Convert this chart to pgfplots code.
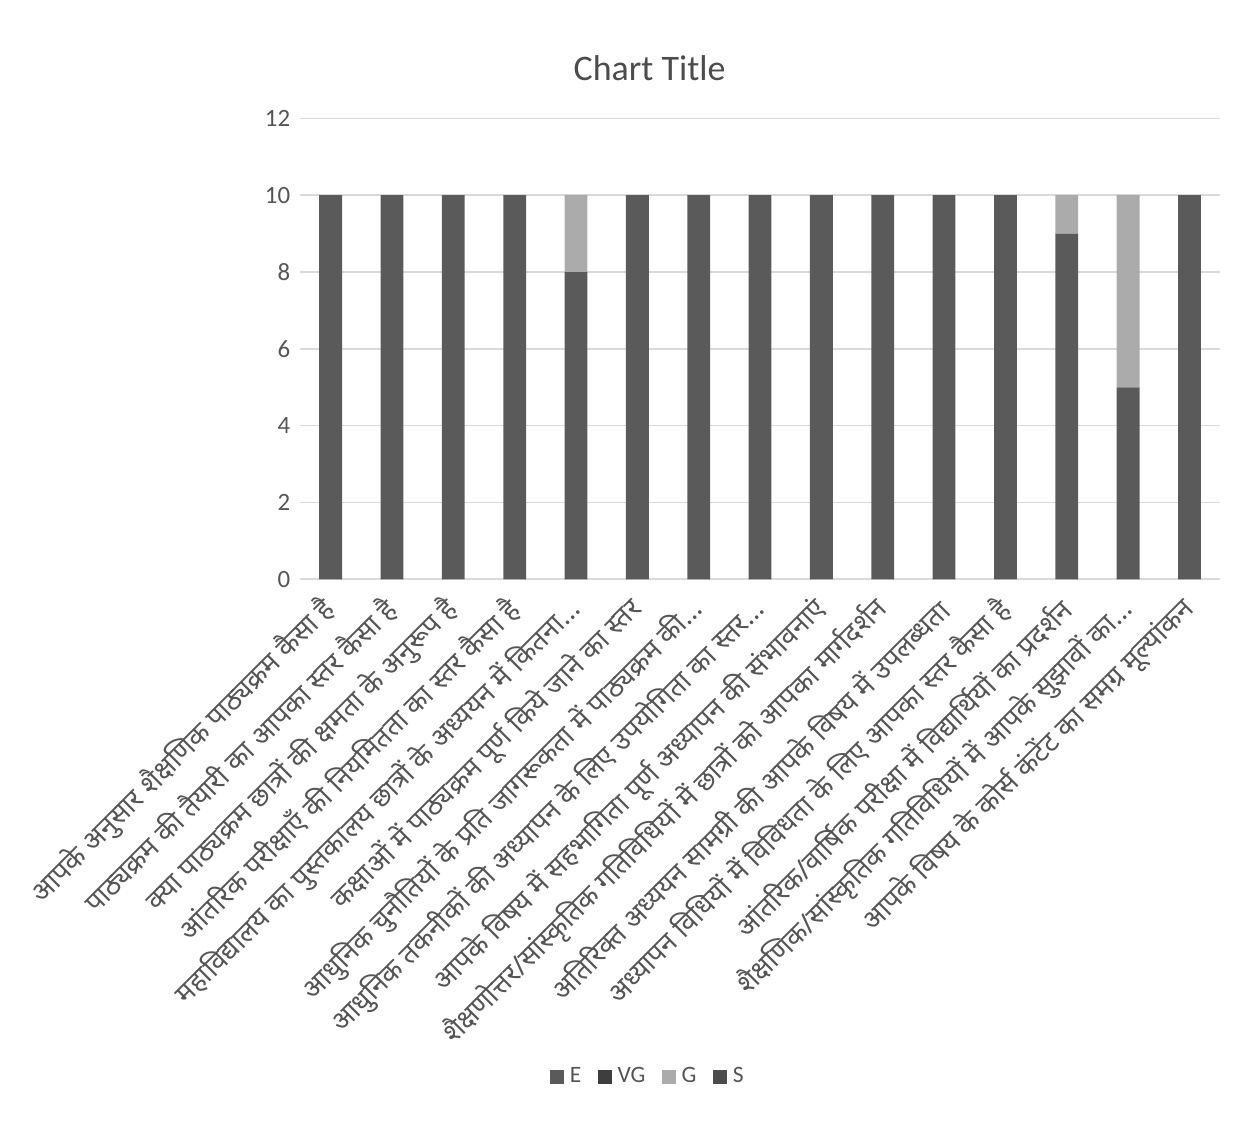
\documentclass[border=0pt]{standalone}
\usepackage{pgfplots}
\pgfplotsset{compat=1.18}
\usepackage{fontspec}
\setmainfont{Carlito}
\newfontfamily\hin[Script=Devanagari]{Noto Sans}

\definecolor{cE}{HTML}{5A5A5A}
\definecolor{cVG}{HTML}{3E3E3E}
\definecolor{cG}{HTML}{ABABAB}
\definecolor{cS}{HTML}{4C4C4C}
\definecolor{txt}{HTML}{555555}

\begin{document}
\begin{tikzpicture}
\begin{axis}[
  scale only axis,
  width=11.7cm, height=5.86cm,
  ybar stacked,
  bar width=0.29cm,
  xmin=-0.5, xmax=14.5,
  ymin=0, ymax=12,
  ytick={0,2,...,12},
  xtick={0,1,2,3,4,5,6,7,8,9,10,11,12,13,14},
  xticklabels={
    {आपके अनुसार शैक्षणिक पाठ्यक्रम कैसा है},
    {पाठ्यक्रम की तैयारी का आपका स्तर कैसा है},
    {क्या पाठ्यक्रम छात्रों की क्षमता के अनुरूप है},
    {आंतरिक परीक्षाएँ की नियमितता का स्तर कैसा है},
    {महाविद्यालय का पुस्तकालय छात्रों के अध्ययन में कितना…},
    {कक्षाओं में पाठ्यक्रम पूर्ण किये जाने का स्तर},
    {आधुनिक चुनौतियों के प्रति जागरूकता में पाठ्यक्रम की…},
    {आधुनिक तकनीकों की अध्यापन के लिए उपयोगिता का स्तर…},
    {आपके विषय में सहभागिता पूर्ण अध्यापन की संभावनाएं},
    {शैक्षणोत्तर/सांस्कृतिक गतिविधियों में छात्रों को आपका मार्गदर्शन},
    {अतिरिक्त अध्ययन सामग्री की आपके विषय में उपलब्धता},
    {अध्यापन विधियों में विविधता के लिए आपका स्तर कैसा है},
    {आंतरिक/वार्षिक परीक्षा में विद्यार्थियों का प्रदर्शन},
    {शैक्षणिक/सांस्कृतिक गतिविधियों में आपके सुझावों का…},
    {आपके विषय के कोर्स कंटेंट का समग्र मूल्यांकन}},
  xticklabel style={rotate=45, anchor=east, font=\hin\fontsize{10}{11}\selectfont, text=txt, inner sep=0pt},
  xticklabel shift=9pt,
  yticklabel style={font=\fontsize{9}{10}\selectfont, text=txt},
  /pgf/number format/assume math mode=true,
  major tick length=0pt,
  axis line style={draw=none},
  ymajorgrids,
  grid style={black!15, line width=0.6pt},
  legend style={at={(0.38,-1.08)}, anchor=center, legend columns=-1, draw=none,
    font=\fontsize{8.5}{9}\selectfont, text=txt,
    /tikz/every even column/.append style={column sep=4pt}},
  legend image code/.code={\fill[#1] (0cm,-0.09cm) rectangle (0.18cm,0.09cm);},
  clip=false,
]
\addplot[fill=cE, draw=none] coordinates {(0,10) (1,10) (2,10) (3,10) (4,8) (5,10) (6,10) (7,10) (8,10) (9,10) (10,10) (11,10) (12,9) (13,5) (14,10)};
\addplot[fill=cVG, draw=none] coordinates {(0,0) (1,0) (2,0) (3,0) (4,0) (5,0) (6,0) (7,0) (8,0) (9,0) (10,0) (11,0) (12,0) (13,0) (14,0)};
\addplot[fill=cG, draw=none] coordinates {(0,0) (1,0) (2,0) (3,0) (4,2) (5,0) (6,0) (7,0) (8,0) (9,0) (10,0) (11,0) (12,1) (13,5) (14,0)};
\addplot[fill=cS, draw=none] coordinates {(0,0) (1,0) (2,0) (3,0) (4,0) (5,0) (6,0) (7,0) (8,0) (9,0) (10,0) (11,0) (12,0) (13,0) (14,0)};
\legend{E, VG, G, S}
\node[font=\fontsize{13}{14}\selectfont, text=black!70] at (rel axis cs:0.38,1.11) {Chart Title};
\path (rel axis cs:-0.326,1.257) rectangle (rel axis cs:1.039,-1.23);
\end{axis}
\end{tikzpicture}
\end{document}
